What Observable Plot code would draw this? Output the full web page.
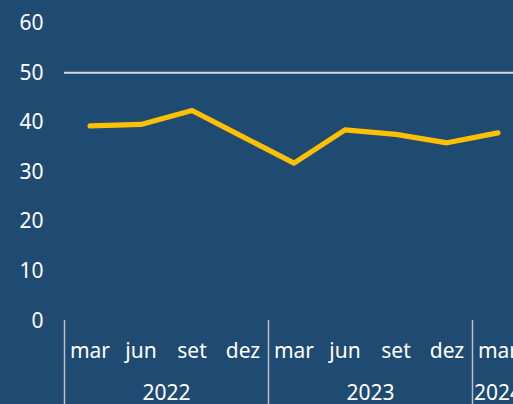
<!DOCTYPE html>
<html>
<head>
<meta charset="utf-8">
<script src="https://cdn.jsdelivr.net/npm/d3@7"></script>
<script src="https://cdn.jsdelivr.net/npm/@observablehq/plot@0.6"></script>
<style>
  html, body { margin: 0; padding: 0; background: #1f4a72; overflow: hidden; }
  #chart svg { display: block; }
</style>
</head>
<body>
<div id="chart"></div>
<script>
const quarters = ["mar", "jun", "set", "dez", "mar", "jun", "set", "dez", "mar"];
const years = [2022, 2022, 2022, 2022, 2023, 2023, 2023, 2023, 2024];
const values = [39.3, 39.6, 42.4, 37.1, 31.8, 38.5, 37.6, 35.9, 37.9];
const yTicks = [0, 10, 20, 30, 40, 50, 60];
const refValue = [50];

const data = quarters.map((q, i) => ({i, q, year: years[i], v: values[i]}));
const yearGroups = d3.groups(data, d => d.year).map(([year, ds]) => ({
  year: String(year),
  mid: d3.mean(ds, d => d.i),
  start: d3.min(ds, d => d.i) - 0.5
}));
const separators = yearGroups.map(g => g.start);

const chart = Plot.plot({
  width: 513,
  height: 404,
  marginLeft: 64,
  marginRight: 0,
  marginTop: 22.7,
  marginBottom: 83.5,
  style: {background: "#1f4a72", color: "#ffffff", fontFamily: "'Noto Sans', sans-serif", fontSize: "21px"},
  x: {type: "linear", domain: [-0.5, quarters.length - 0.5], range: [64, 64 + 51 * quarters.length], axis: null},
  y: {domain: [0, 60], range: [320.5, 22.7], label: null, axis: null},
  marks: [
    Plot.axisY(yTicks, {tickSize: 0, tickPadding: 21, fontSize: 21, fill: "#ffffff", label: null}),
    Plot.ruleY(refValue, {stroke: "#d9d9d9", strokeWidth: 2}),
    Plot.ruleX(separators, {x: d => d, y1: 0, y2: 0, insetTop: -0.5, insetBottom: -84, stroke: "#bfbfbf", strokeWidth: 1.5}),
    Plot.lineY(data, {x: "i", y: "v", stroke: "#ffc000", strokeWidth: 5.2}),
    Plot.text(data, {x: "i", text: "q", frameAnchor: "bottom", lineAnchor: "middle", dy: 30, fill: "#ffffff", fontSize: 21}),
    Plot.text(yearGroups, {x: "mid", text: "year", frameAnchor: "bottom", lineAnchor: "middle", dy: 72, fill: "#ffffff", fontSize: 21})
  ]
});
document.getElementById("chart").appendChild(chart);
</script>
</body>
</html>
